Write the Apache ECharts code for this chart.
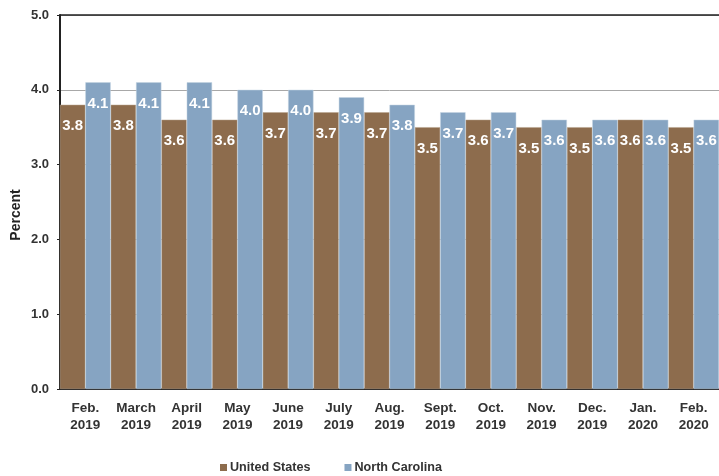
<!DOCTYPE html>
<html><head><meta charset="utf-8">
<script src="https://cdn.jsdelivr.net/npm/echarts@6/dist/echarts.min.js"></script>
<style>html,body{margin:0;padding:0;background:#fff}#c{width:719px;height:476px}</style>
</head><body><div id="c"></div>
<script>
const categories = ['Feb.\n2019','March\n2019','April\n2019','May\n2019','June\n2019','July\n2019','Aug.\n2019','Sept.\n2019','Oct.\n2019','Nov.\n2019','Dec.\n2019','Jan.\n2020','Feb.\n2020'];
const unitedStates = [3.8,3.8,3.6,3.6,3.7,3.7,3.7,3.5,3.6,3.5,3.5,3.6,3.5];
const northCarolina = [4.1,4.1,4.1,4.0,4.0,3.9,3.8,3.7,3.7,3.6,3.6,3.6,3.6];
const seriesNames = ['United States','North Carolina'];
const yTitle = 'Percent';
const font = 'Liberation Sans, Arial, sans-serif';
const chart = echarts.init(document.getElementById('c'));
const lbl = {show:true, position:'insideTop', distance:14, color:'#fff', fontWeight:'bold', fontSize:15, fontFamily:font, formatter: p => p.value.toFixed(1)};
chart.setOption({
  animation:false,
  grid:{left:60, top:15, width:664, height:374, containLabel:false},
  legend:{top:456, left:215, itemWidth:7, itemHeight:7, itemGap:34, icon:'rect',
    itemStyle:{borderWidth:0},
    textStyle:{fontFamily:font, fontWeight:'bold', fontSize:12.6, color:'#333', padding:[0,0,0,-2]}, data:seriesNames},
  graphic:[{type:'text', x:16, y:215, rotation:Math.PI/2,
    style:{text:yTitle, fill:'#222', font:'bold 14px Liberation Sans, Arial, sans-serif', align:'center', verticalAlign:'middle'}}],
  xAxis:[{type:'category', data:categories, axisTick:{show:false},
    axisLine:{lineStyle:{color:'#222', width:2}},
    axisLabel:{fontFamily:font, fontWeight:'bold', fontSize:13.5, color:'#333', lineHeight:17, margin:11, interval:0}},
   {type:'category', position:'top', data:categories, axisTick:{show:false}, axisLabel:{show:false},
    axisLine:{lineStyle:{color:'#222', width:1.5}}}],
  yAxis:{type:'value', min:0, max:5, interval:1,
    axisLine:{show:true, lineStyle:{color:'#222', width:2}},
    axisTick:{show:true, length:3, lineStyle:{color:'#222'}},
    axisLabel:{fontFamily:font, fontWeight:'bold', fontSize:13, color:'#333', margin:11, formatter:v=>v.toFixed(1)},
    splitLine:{show:true, lineStyle:{color:'#a8a8a8', width:1}}},
  series:[
    {name:seriesNames[0], type:'bar', data:unitedStates, barGap:'0%', barCategoryGap:'0%',
     itemStyle:{color:'#8d6c4d', borderColor:'#b8a48f', borderWidth:0.5}, label:lbl},
    {name:seriesNames[1], type:'bar', data:northCarolina, barGap:'0%', barCategoryGap:'0%',
     itemStyle:{color:'#86a4c2', borderColor:'#c5d4e3', borderWidth:0.5}, label:lbl}
  ]
});
</script></body></html>
